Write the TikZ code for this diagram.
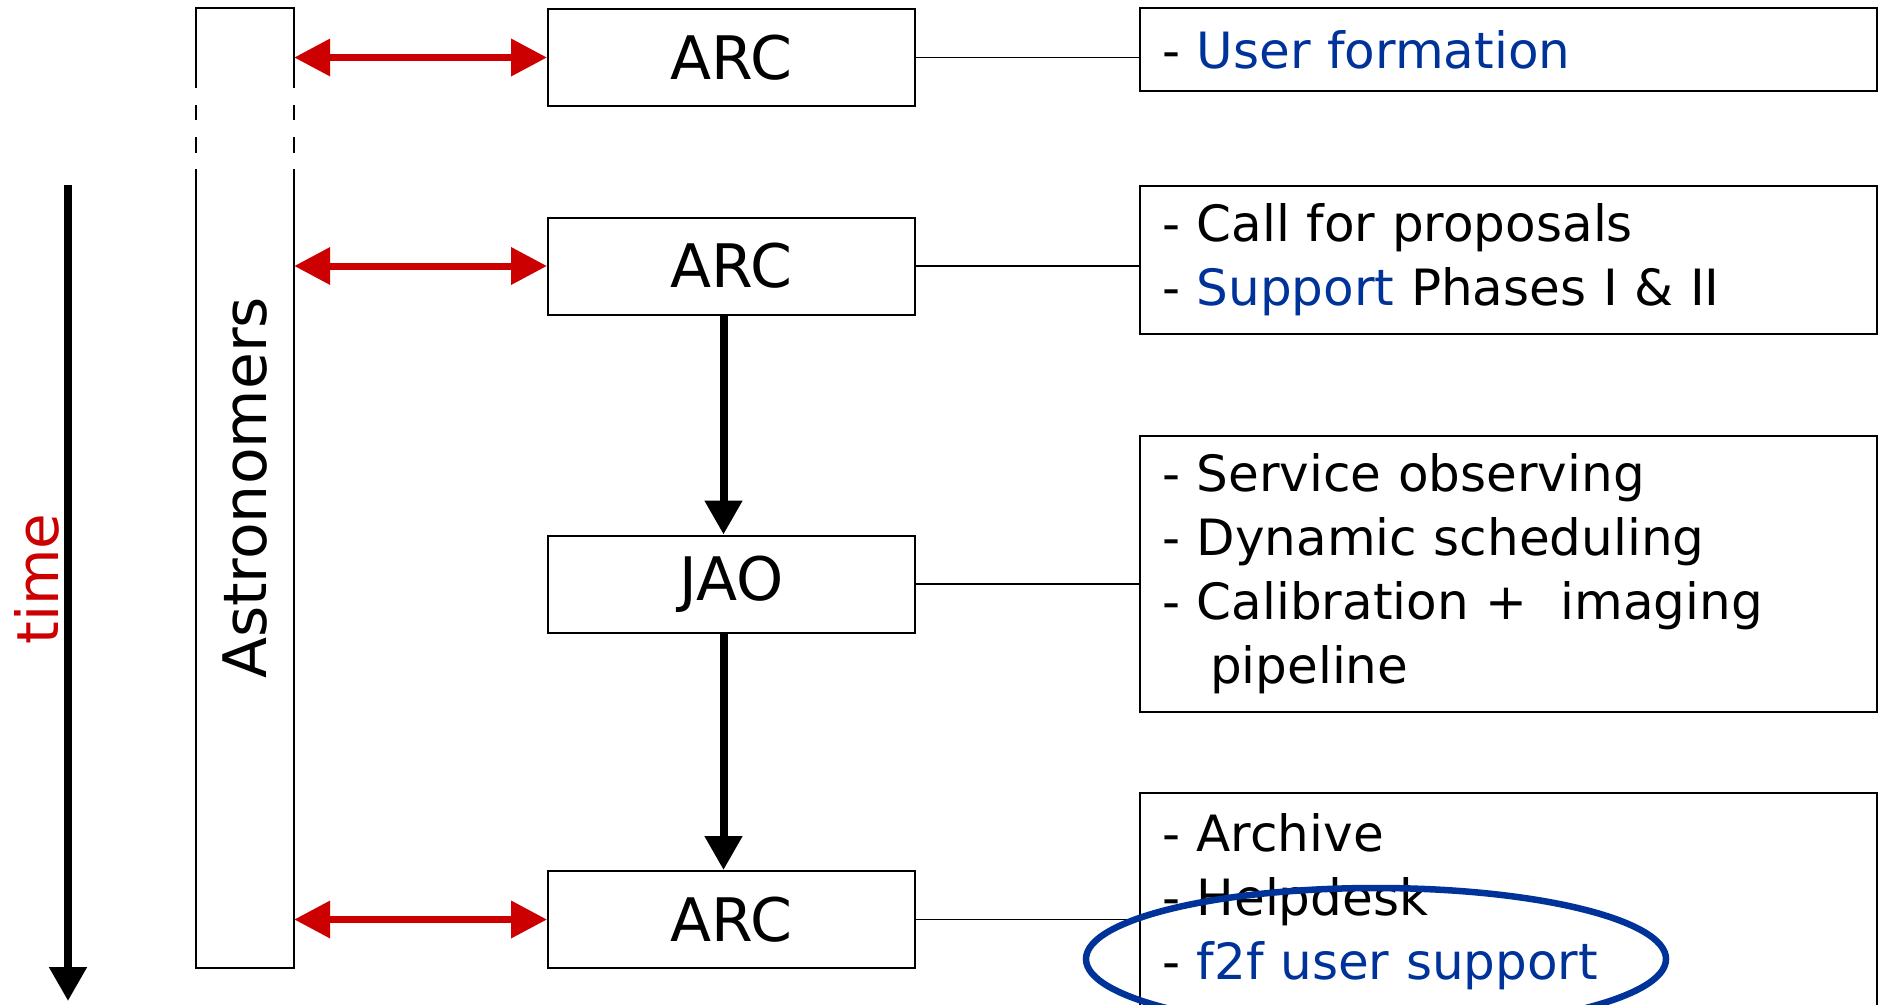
\documentclass[tikz,border=0pt]{standalone}
\usepackage{fontspec}
\setmainfont{DejaVu Sans}
\usetikzlibrary{arrows.meta,shapes.geometric}
\definecolor{arred}{RGB}{204,0,0}
\definecolor{txtblue}{RGB}{0,51,153}
\tikzset{
  boxline/.style={line width=2pt, draw=black},
  leftbox/.style={boxline, minimum width=367pt, minimum height=97pt, inner sep=0pt,
    font=\fontsize{60}{72}\selectfont},
  rightbox/.style={boxline, minimum height=#1, text width=693pt, inner xsep=22pt, inner ysep=0pt,
    align=left, font=\fontsize{50}{64}\selectfont},
  redarrow/.style={line width=7pt, draw=arred, {Triangle[length=36pt,width=36pt]}-{Triangle[length=36pt,width=36pt]}},
  blackarrow/.style={line width=8pt, draw=black, -{Triangle[length=34pt,width=36pt]}},
  thinline/.style={line width=1.8pt, draw=black},
  circled/.style={line width=6.5pt, draw=txtblue},
}
\begin{document}
\begin{tikzpicture}[x=1pt, y=-1pt]
\useasboundingbox (0,0) rectangle (1879,1004);
\clip (0,0) rectangle (1879,1004);
\fill[white] (0,0) rectangle (1879,1004);

% time axis
\coordinate (t1) at (68,185);
\coordinate (t2) at (68,1001);
\draw[blackarrow] (t1) -- (t2);
\node[rotate=90, text=arred, font=\fontsize{58}{70}\selectfont, inner sep=0pt] (time) at (37,579) {time};

% Astronomers column (rotated node: width along the column)
\node[minimum width=960pt, minimum height=98pt, inner sep=0pt, rotate=90,
      font=\fontsize{60}{72}\selectfont] (astro) at (245,488) {Astronomers};
\draw[boxline] (196,88) -- (196,8) -- (294,8) -- (294,88);
\draw[boxline] (196,105) -- (196,120) (196,137) -- (196,153);
\draw[boxline] (294,105) -- (294,120) (294,137) -- (294,153);
\draw[boxline] (196,169) -- (196,968) -- (294,968) -- (294,169);

% left boxes
\node[leftbox] (arc1) at (731.5,57.5) {ARC};
\node[leftbox] (arc2) at (731.5,266) {ARC};
\node[leftbox] (jao)  at (731.5,584) {JAO};
\node[leftbox] (arc4) at (731.5,919.5) {ARC};

% right boxes
\node[rightbox=83pt] (r1) at (1508.5,49.5) {- \textcolor{txtblue}{User formation}};
\node[rightbox=148pt] (r2) at (1508.5,260) {- Call for proposals\\- \textcolor{txtblue}{Support} Phases I \& II};
\node[rightbox=276pt] (r3) at (1508.5,574) {- Service observing\\- Dynamic scheduling\\- Calibration + ~imaging\\\hspace*{48pt}pipeline};
\node[rightbox=217pt] (r4) at (1508.5,901.5) {- Archive\\- Helpdesk\\- \textcolor{txtblue}{f2f user support}};

% connectors
\draw[thinline] (arc1.east) -- (arc1.east -| r1.west);
\draw[thinline] (arc2.east) -- (arc2.east -| r2.west);
\draw[thinline] (jao.east) -- (jao.east -| r3.west);
\draw[thinline] (arc4.east) -- (arc4.east -| r4.west);

% red double arrows
\draw[redarrow] (arc1.west -| astro.south) -- (arc1.west);
\draw[redarrow] (arc2.west -| astro.south) -- (arc2.west);
\draw[redarrow] (arc4.west -| astro.south) -- (arc4.west);

% black arrows
\draw[blackarrow] ([xshift=-8pt]arc2.south) -- ([xshift=-8pt]jao.north);
\draw[blackarrow] ([xshift=-8pt]jao.south) -- ([xshift=-8pt]arc4.north);

% highlight ellipse
\node[circled, ellipse, minimum width=580pt, minimum height=142pt, inner sep=0pt] (hl) at (1376,959) {};
\end{tikzpicture}
\end{document}
